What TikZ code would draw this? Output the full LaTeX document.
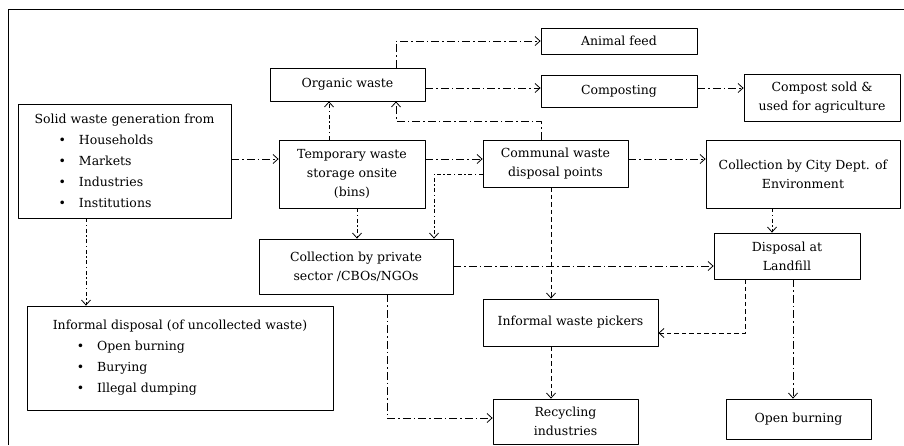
\documentclass[tikz,border=0pt]{standalone}
\usepackage{fontspec}
\setmainfont{DejaVu Serif}
\usetikzlibrary{arrows.meta}
\newcommand\bul[1]{\hspace*{24pt}\textbullet\hspace{13pt}#1}
\begin{document}
\begin{tikzpicture}[x=1pt,y=-1pt,line join=round,font=\fontsize{12.5}{19}\selectfont,
  box/.style={draw,line width=.8pt,align=center,inner sep=0pt},
  flow/.style={line width=.8pt,dash pattern=on 8pt off 3pt on 1.5pt off 3pt,-{Straight Barb[length=5pt,width=9pt]}},
  fine/.style={flow,dash pattern=on 4pt off 2.5pt on 1.5pt off 2.5pt},
  pickflow/.style={flow,dash pattern=on 4.5pt off 3pt}]
  \useasboundingbox (0,0) rectangle (904,445);
  \draw[line width=.8pt] (8,445) -- (8,9) -- (904,9);
  \node[box,align=left,minimum width=213pt,minimum height=114pt] (src) at (124.5,161)
    {Solid waste generation from\\[2pt]\bul{Households}\\[2pt]\bul{Markets}\\[2pt]\bul{Industries}\\[2pt]\bul{Institutions}};
  \node[box,align=left,minimum width=306pt,minimum height=104pt] (informal) at (180,358)
    {Informal disposal (of uncollected waste)\\[2pt]\bul{Open burning}\\[2pt]\bul{Burying}\\[2pt]\bul{Illegal dumping}};
  \node[box,minimum width=155pt,minimum height=33pt] (org) at (347.5,84.5) {Organic waste};
  \node[box,minimum width=146pt,minimum height=68pt] (tmp) at (352,174) {Temporary waste\\storage onsite\\(bins)};
  \node[box,minimum width=156pt,minimum height=26pt] (feed) at (619,41) {Animal feed};
  \node[box,minimum width=156pt,minimum height=32pt] (comp) at (619,91) {Composting};
  \node[box,minimum width=156pt,minimum height=47pt] (sold) at (822,97.5) {Compost sold \&\\used for agriculture};
  \node[box,minimum width=145pt,minimum height=47pt] (comm) at (555.5,163.5) {Communal waste\\disposal points};
  \node[box,minimum width=194pt,minimum height=68pt] (city) at (803,174) {Collection by City Dept. of\\Environment};
  \node[box,minimum width=194pt,minimum height=55pt] (priv) at (356,266.5) {Collection by private\\sector /CBOs/NGOs};
  \node[box,minimum width=146pt,minimum height=46pt] (land) at (787,256) {Disposal at\\Landfill};
  \node[box,minimum width=175pt,minimum height=47pt] (pick) at (570.5,322.5) {Informal waste pickers};
  \node[box,minimum width=145pt,minimum height=45pt] (recy) at (565.5,421.5) {Recycling\\industries};
  \node[box,minimum width=145pt,minimum height=40pt] (burn) at (798.5,419) {Open burning};
  \draw[flow] (src.east |- 0,159) -- (tmp.west |- 0,159);
  \draw[fine] (86,0 |- src.south) -- (86,0 |- informal.north);
  \draw[fine] (329,0 |- tmp.north) -- (329,0 |- org.south);
  \draw[flow] (396,0 |- org.north) |- (feed.west);
  \draw[flow] (org.east |- 0,88) -- (comp.west |- 0,88);
  \draw[flow] (541,0 |- comm.north) -- (541,121) -| (396,0 |- org.south);
  \draw[flow] (comp.east |- 0,88) -- (sold.west |- 0,88);
  \draw[flow] (tmp.east |- 0,159) -- (comm.west |- 0,159);
  \draw[fine] (comm.west |- 0,174) -| (434,0 |- priv.north);
  \draw[fine] (357,0 |- tmp.south) -- (357,0 |- priv.north);
  \draw[flow] (comm.east |- 0,159) -- (city.west |- 0,159);
  \draw[pickflow] (551,0 |- comm.south) -- (551,0 |- pick.north);
  \draw[fine] (772,0 |- city.south) -- (772,0 |- land.north);
  \draw[flow] (priv.east |- 0,266) -- (land.west |- 0,266);
  \draw[flow] (387,0 |- priv.south) |- (recy.west |- 0,418);
  \draw[pickflow] (745,0 |- land.south) |- (pick.east |- 0,333);
  \draw[pickflow] (551,0 |- pick.south) -- (551,0 |- recy.north);
  \draw[flow] (793,0 |- land.south) -- (793,0 |- burn.north);
\end{tikzpicture}
\end{document}
